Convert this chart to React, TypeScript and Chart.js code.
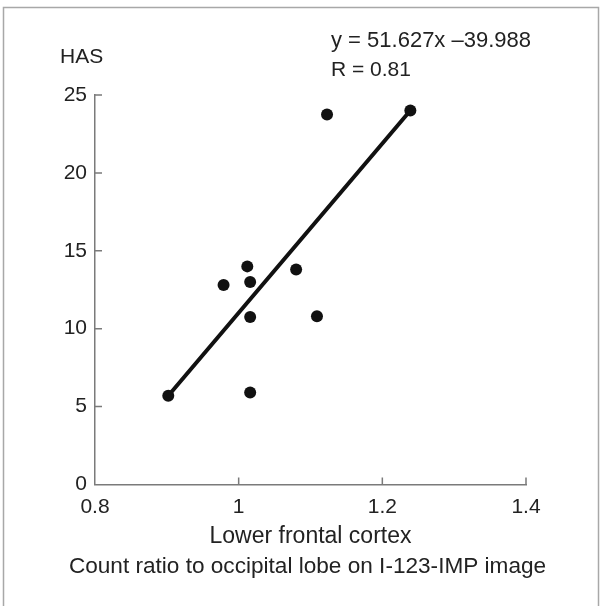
import React, { useEffect, useRef } from "react";
import { Chart, registerables } from "chart.js";

Chart.register(...registerables);

// Data
const xValues = [0.902, 0.979, 1.012, 1.016, 1.016, 1.016, 1.08, 1.109, 1.123, 1.239];
const yValues = [5.7, 12.8, 14.0, 13.0, 10.75, 5.9, 13.8, 10.8, 23.75, 24.0];
const fitX = [0.902, 1.239];
const fitY = [5.7, 24.0];
const xTicks = [0.8, 1.0, 1.2, 1.4];
const xTickLabels = ["0.8", "1", "1.2", "1.4"];
const yTicks = [0, 5, 10, 15, 20, 25];
const yTickLabels = ["0", "5", "10", "15", "20", "25"];
const yAxisLabel = "HAS";
const xAxisTitle = ["Lower frontal cortex", "Count ratio to occipital lobe on I-123-IMP image"];
const equationText = "y = 51.627x \u201339.988";
const rText = "R = 0.81";

const FONT = "'Liberation Sans', Arial, Helvetica, sans-serif";
const TEXT = "#222";
const AXIS = "#7a7a7a";

const decorPlugin = {
  id: "decor",
  beforeDraw(chart: any) {
    const ctx = chart.ctx;
    ctx.save();
    ctx.fillStyle = "#fff";
    ctx.fillRect(0, 0, chart.width, chart.height);
    ctx.strokeStyle = "#a8a8a8";
    ctx.lineWidth = 1.5;
    ctx.strokeRect(3.5, 7.5, 595, 640);
    ctx.restore();
  },
  afterDraw(chart: any) {
    const ctx = chart.ctx;
    const xs = chart.scales.x;
    const ys = chart.scales.y;
    const area = chart.chartArea;
    ctx.save();
    ctx.strokeStyle = AXIS;
    ctx.lineWidth = 1.5;
    ctx.beginPath();
    xTicks.slice(1).forEach((v) => {
      const px = xs.getPixelForValue(v);
      ctx.moveTo(px, area.bottom);
      ctx.lineTo(px, area.bottom - 7);
    });
    yTicks.slice(1).forEach((v) => {
      const py = ys.getPixelForValue(v);
      ctx.moveTo(area.left, py);
      ctx.lineTo(area.left + 7, py);
    });
    ctx.stroke();
    ctx.fillStyle = TEXT;
    ctx.textBaseline = "alphabetic";
    ctx.textAlign = "left";
    ctx.font = `21px ${FONT}`;
    ctx.fillText(yAxisLabel, 60, 63);
    ctx.fillText(rText, 331, 76);
    ctx.font = `22px ${FONT}`;
    ctx.fillText(equationText, 331, 47);
    // x-axis title (two lines), centred under the plot area
    const cx = (area.left + area.right) / 2;
    ctx.textAlign = "center";
    ctx.font = `23px ${FONT}`;
    ctx.fillText(xAxisTitle[0], cx, area.bottom + 58);
    ctx.font = `22.6px ${FONT}`;
    ctx.fillText(xAxisTitle[1], cx - 3, area.bottom + 88);
    ctx.restore();
  },
};

export default function App() {
  const ref = useRef<HTMLCanvasElement | null>(null);
  useEffect(() => {
    if (!ref.current) return;
    const chart = new Chart(ref.current, {
      type: "scatter",
      data: {
        datasets: [
          {
            label: "fit",
            data: fitX.map((x, i) => ({ x, y: fitY[i] })),
            showLine: true,
            borderColor: "#111",
            borderWidth: 4,
            pointRadius: 0,
            borderCapStyle: "round",
            clip: false,
          } as any,
          {
            label: "data",
            data: xValues.map((x, i) => ({ x, y: yValues[i] })),
            backgroundColor: "#111",
            borderColor: "#111",
            pointRadius: 6,
            borderWidth: 0,
            clip: false,
          } as any,
        ],
      },
      options: {
        animation: false,
        responsive: false,
        devicePixelRatio: 1,
        layout: { padding: { top: 95, left: 0, right: 76, bottom: 0 } },
        plugins: { legend: { display: false }, tooltip: { enabled: false } },
        scales: {
          x: {
            type: "linear",
            min: 0.8,
            max: 1.4,
            afterBuildTicks: (s: any) => {
              s.ticks = xTicks.map((v) => ({ value: v }));
            },
            afterFit: (s: any) => {
              s.height = 121.5;
            },
            ticks: {
              autoSkip: false,
              maxRotation: 0,
              padding: 10,
              color: TEXT,
              font: { family: FONT, size: 21 },
              callback: (_v: any, i: number) => xTickLabels[i],
            },
            grid: { display: false, drawTicks: false },
            border: { display: true, color: AXIS, width: 1.5 },
          },
          y: {
            type: "linear",
            min: 0,
            max: 25,
            afterBuildTicks: (s: any) => {
              s.ticks = yTicks.map((v) => ({ value: v }));
            },
            afterFit: (s: any) => {
              s.width = 95;
            },
            ticks: {
              autoSkip: false,
              padding: 8,
              color: TEXT,
              font: { family: FONT, size: 21 },
              callback: (_v: any, i: number) => yTickLabels[i],
            },
            grid: { display: false, drawTicks: false },
            border: { display: true, color: AXIS, width: 1.5 },
          },
        },
      },
      plugins: [decorPlugin],
    } as any);
    return () => chart.destroy();
  }, []);
  return (
    <div style={{ position: "absolute", left: 0, top: 0, width: 602, height: 606, background: "#fff" }}>
      <canvas ref={ref} width={602} height={606} style={{ display: "block", width: 602, height: 606 }} />
    </div>
  );
}
